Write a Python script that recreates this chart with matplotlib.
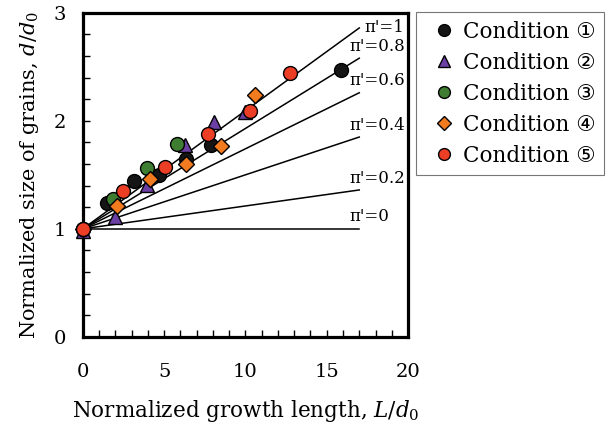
import matplotlib
matplotlib.use('Agg')
import matplotlib.pyplot as plt
import numpy as np

plt.rcParams['font.family'] = ['DejaVu Serif', 'DejaVu Sans']
plt.rcParams['mathtext.fontset'] = 'dejavuserif'

# Données
cond_labels = ['Condition ①', 'Condition ②', 'Condition ③', 'Condition ④', 'Condition ⑤']
cond_markers = ['o', '^', 'o', 'D', 'o']
cond_colors = ['#151515', '#6b3fa3', '#3f7d33', '#f27a1f', '#ec3d25']

x1 = [0, 1.47, 3.15, 4.7, 6.34, 7.91, 15.9]
y1 = [1.0, 1.24, 1.44, 1.50, 1.65, 1.78, 2.47]
x2 = [0, 1.98, 3.97, 6.28, 8.06, 9.96]
y2 = [0.98, 1.11, 1.41, 1.78, 1.99, 2.08]
x3 = [0, 1.88, 3.93, 5.81]
y3 = [1.0, 1.28, 1.56, 1.79]
x4 = [0, 2.09, 4.13, 6.32, 8.47, 10.57]
y4 = [1.0, 1.21, 1.46, 1.60, 1.77, 2.24]
x5 = [0, 2.49, 5.05, 7.71, 10.27, 12.72]
y5 = [1.0, 1.35, 1.57, 1.88, 2.09, 2.44]

xs = [x1, x2, x3, x4, x5]
ys = [y1, y2, y3, y4, y5]

# lignes théoriques pi'
pi_labels = ["π'=1", "π'=0.8", "π'=0.6", "π'=0.4", "π'=0.2", "π'=0"]
line_x_end = 17.0
line_y_end = [2.86, 2.58, 2.26, 1.85, 1.36, 1.0]

fig = plt.figure(figsize=(6.09, 4.28), dpi=100)
ax = fig.add_axes([0.136, 0.213, 0.534, 0.757])

for yend, lab in zip(line_y_end, pi_labels):
    ax.plot([0, line_x_end], [1.0, yend], color='black', lw=1.1, zorder=1)
    if lab == "π'=1":
        ax.text(line_x_end + 0.3, yend, lab, fontsize=12, va='center', ha='left')
    else:
        ax.text(16.4, yend + 0.11, lab, fontsize=12, va='center', ha='left')

# ordre de tracé: rouge au-dessus à l'origine
for i in [1, 0, 2, 3, 4]:
    ms = 8.5 if cond_markers[i] == 'D' else 10
    if cond_markers[i] == '^':
        ms = 10.5
    ax.plot(xs[i], ys[i], linestyle='none', marker=cond_markers[i], color=cond_colors[i],
            markeredgecolor='black', markeredgewidth=1.0, markersize=ms,
            label=cond_labels[i], zorder=3, clip_on=False)

ax.set_xlim(0, 20)
ax.set_ylim(0, 3)
ax.set_xticks([0, 5, 10, 15, 20])
ax.set_yticks([0, 1, 2, 3])
ax.set_xticks(np.arange(0, 21, 1), minor=True)
ax.set_yticks(np.arange(0, 3.01, 0.2), minor=True)
ax.tick_params(which='both', direction='in', length=5, width=1, top=False, right=False)
ax.tick_params(axis='x', which='major', pad=19, labelsize=14)
ax.tick_params(axis='y', which='major', pad=12, labelsize=14)
for s in ax.spines.values():
    s.set_linewidth(2.3)

ax.set_xlabel(r"Normalized growth length, $L/d_0$", fontsize=15.5, labelpad=12)
ax.set_ylabel(r"Normalized size of grains, $d/d_0$", fontsize=15, labelpad=9)

handles, labels = ax.get_legend_handles_labels()
order = [labels.index(l) for l in cond_labels]
leg = fig.legend([handles[k] for k in order], [labels[k] for k in order],
                 loc='upper left', bbox_to_anchor=(0.683, 0.972), borderaxespad=0,
                 fontsize=15.5, fancybox=False, edgecolor='#555555', handletextpad=0.0,
                 handlelength=1.8, labelspacing=0.42, borderpad=0.4, markerscale=0.85)
leg.get_frame().set_linewidth(0.8)

fig.savefig('out.png', dpi=100)
